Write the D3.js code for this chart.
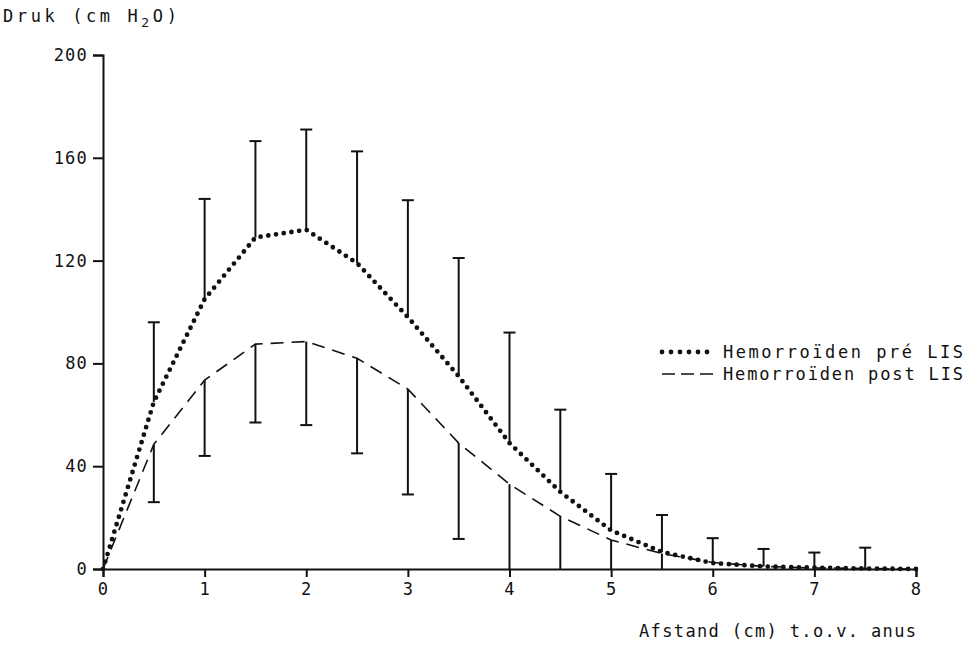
<!DOCTYPE html>
<html>
  <head>
    <meta charset="utf-8" />
    <script src="https://d3js.org/d3.v7.min.js"></script>
    <style>
      body { margin: 0; background: #fff; }
      text { font-family: "DejaVu Sans Mono", monospace; fill: #111; }
    </style>
  </head>
  <body>
    <svg id="chart"></svg>
    <script>
      // afstand (cm) t.o.v. anus
      var afstand = [0, 0.5, 1, 1.5, 2, 2.5, 3, 3.5, 4, 4.5, 5, 5.5, 6, 6.5, 7, 7.5, 8];
      // gemiddelde druk pre LIS (stippellijn)
      var pre = [0, 65, 105, 129, 132, 119, 98, 75, 49, 30, 15, 6.6, 2.3, 1, 0.5, 0.2, 0];
      // gemiddelde druk post LIS (streepjeslijn)
      var post = [0, 48.5, 73.5, 87.5, 88.5, 82, 70, 49, 33, 20.5, 11.3, 6, 2.5, 1, 0.4, 0.2, 0];

      // foutbalken: boven vanaf pre, onder vanaf post
      var barX = [0.5, 1, 1.5, 2, 2.5, 3, 3.5, 4, 4.5, 5, 5.5, 6, 6.5, 7, 7.5];
      var preUpper = [96, 144, 166.5, 171, 162.5, 143.5, 121, 92, 62, 37, 21, 12, 7.8, 6.4, 8.3];
      var lowerX = [0.5, 1, 1.5, 2, 2.5, 3, 3.5, 4, 4.5, 5, 5.5];
      var postLower = [26, 44, 57, 56, 45, 29, 11.7, 0, 0, 0, 0];

      var xTicks = [0, 1, 2, 3, 4, 5, 6, 7, 8];
      var yTicks = [0, 40, 80, 120, 160, 200];

      var width = 977;
      var height = 645;

      var svg = d3.select("#chart").attr("width", width).attr("height", height);

      var x = d3.scaleLinear().domain([0, 8]).range([103, 916]);
      var y = d3.scaleLinear().domain([0, 200]).range([569, 55]);

      function preAt(v) { return pre[afstand.indexOf(v)]; }
      function postAt(v) { return post[afstand.indexOf(v)]; }

      // Assen
      var xAxis = svg.append("g")
        .attr("transform", "translate(0," + y(0) + ")")
        .call(d3.axisBottom(x).tickValues(xTicks).tickFormat(d3.format("d")).tickSizeOuter(0).tickSize(8).tickPadding(4));
      var yAxis = svg.append("g")
        .attr("transform", "translate(" + x(0) + ",0)")
        .call(d3.axisLeft(y).tickValues(yTicks).tickFormat(d3.format("d")).tickSizeOuter(0).tickSize(10).tickPadding(5));

      svg.selectAll(".domain, .tick line").attr("stroke", "#111").attr("stroke-width", 2);
      svg.selectAll(".tick text")
        .style("font-size", "17px")
        .style("letter-spacing", "1.2px")
        .attr("fill", "#111");
      xAxis.selectAll(".tick text").attr("dy", "0.85em");

      // Foutbalken
      var bars = svg.append("g").attr("stroke", "#111").attr("stroke-width", 2);
      var cap = 6;
      bars.selectAll("line.up")
        .data(barX)
        .join("line")
        .attr("class", "up")
        .attr("x1", (d) => x(d)).attr("x2", (d) => x(d))
        .attr("y1", (d) => y(preAt(d)))
        .attr("y2", (d, i) => y(preUpper[i]));
      bars.selectAll("line.upcap")
        .data(barX)
        .join("line")
        .attr("class", "upcap")
        .attr("x1", (d) => x(d) - cap).attr("x2", (d) => x(d) + cap)
        .attr("y1", (d, i) => y(preUpper[i]))
        .attr("y2", (d, i) => y(preUpper[i]));
      bars.selectAll("line.down")
        .data(lowerX)
        .join("line")
        .attr("class", "down")
        .attr("x1", (d) => x(d)).attr("x2", (d) => x(d))
        .attr("y1", (d) => y(postAt(d)))
        .attr("y2", (d, i) => y(postLower[i]));
      bars.selectAll("line.downcap")
        .data(lowerX.filter((d, i) => postLower[i] > 0))
        .join("line")
        .attr("class", "downcap")
        .attr("x1", (d) => x(d) - cap).attr("x2", (d) => x(d) + cap)
        .attr("y1", (d, i) => y(postLower[i]))
        .attr("y2", (d, i) => y(postLower[i]));

      // Lijnen (rechte stukken tussen de meetpunten)
      var lineGen = d3.line()
        .x((d) => x(d[0]))
        .y((d) => y(d[1]));

      svg.append("path")
        .datum(afstand.map((d, i) => [d, post[i]]))
        .attr("fill", "none")
        .attr("stroke", "#111")
        .attr("stroke-width", 1.6)
        .attr("stroke-dasharray", "13,8")
        .attr("d", lineGen);

      svg.append("path")
        .datum(afstand.map((d, i) => [d, pre[i]]))
        .attr("fill", "none")
        .attr("stroke", "#111")
        .attr("stroke-width", 4.8)
        .attr("stroke-linecap", "round")
        .attr("stroke-dasharray", "0,7.8")
        .attr("d", lineGen);

      // Titels
      var title = svg.append("text")
        .attr("x", 3)
        .attr("y", 22)
        .style("font-size", "17px")
        .style("letter-spacing", "3.6px");
      title.append("tspan").text("Druk (cm H");
      title.append("tspan").attr("dy", 5).style("font-size", "13px").text("2");
      title.append("tspan").attr("dy", -5).text("O)");

      svg.append("text")
        .attr("x", 639)
        .attr("y", 637)
        .attr("textLength", 277)
        .attr("lengthAdjust", "spacing")
        .style("font-size", "17px")
        .text("Afstand (cm) t.o.v. anus");

      // Legenda
      var legend = svg.append("g");
      legend.append("line")
        .attr("x1", 662).attr("x2", 716).attr("y1", 352).attr("y2", 352)
        .attr("stroke", "#111").attr("stroke-width", 4.8)
        .attr("stroke-linecap", "round").attr("stroke-dasharray", "0,9");
      legend.append("line")
        .attr("x1", 662).attr("x2", 714).attr("y1", 374).attr("y2", 374)
        .attr("stroke", "#111").attr("stroke-width", 1.6)
        .attr("stroke-dasharray", "13,6");
      legend.append("text")
        .attr("x", 723).attr("y", 358)
        .attr("textLength", 240)
        .attr("lengthAdjust", "spacing")
        .style("font-size", "17px")
        .text("Hemorroïden pré LIS");
      legend.append("text")
        .attr("x", 723).attr("y", 380)
        .attr("textLength", 240)
        .attr("lengthAdjust", "spacing")
        .style("font-size", "17px")
        .text("Hemorroïden post LIS");
    </script>
  </body>
</html>
